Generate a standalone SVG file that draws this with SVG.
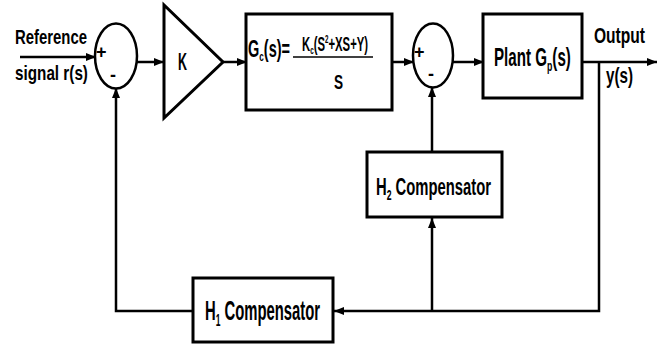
<svg xmlns="http://www.w3.org/2000/svg" width="668" height="347" viewBox="0 0 668 347">
<defs>
<style>
.box{fill:#fff;stroke:#000;stroke-width:3}
.sum{fill:#fff;stroke:#000;stroke-width:2.5}
.ln{fill:none;stroke:#000;stroke-width:2.5}
.t{font-family:"Liberation Sans",Arial,sans-serif;font-weight:bold;fill:#000}
</style>
<marker id="ah" markerUnits="userSpaceOnUse" markerWidth="10" markerHeight="10" viewBox="0 0 10 10" refX="10" refY="5" orient="auto">
<path d="M0,1 L10,5 L0,9 Z" fill="#000"/>
</marker>
</defs>
<rect width="668" height="347" fill="#fff"/>
<g id="connectors">
<line class="ln" x1="20" y1="57" x2="96" y2="57" marker-end="url(#ah)"/>
<line class="ln" x1="137" y1="62" x2="164" y2="62" marker-end="url(#ah)"/>
<line class="ln" x1="223" y1="62" x2="247" y2="62" marker-end="url(#ah)"/>
<line class="ln" x1="392" y1="62" x2="414" y2="62" marker-end="url(#ah)"/>
<line class="ln" x1="453" y1="62" x2="484" y2="62" marker-end="url(#ah)"/>
<line class="ln" x1="582" y1="62" x2="657" y2="62" marker-end="url(#ah)"/>
<polyline class="ln" points="599,62 599,311 334,311" marker-end="url(#ah)"/>
<line class="ln" x1="432" y1="311" x2="432" y2="218" marker-end="url(#ah)"/>
<line class="ln" x1="432" y1="152" x2="432" y2="87" marker-end="url(#ah)"/>
<polyline class="ln" points="193,311 116,311 116,88" marker-end="url(#ah)"/>
</g>
<g id="input-label">
<text class="t" font-size="20" transform="translate(15,44) scale(0.745,1)">Reference</text>
<text class="t" font-size="20" transform="translate(15,80) scale(0.764,1)">signal r(s)</text>
</g>
<g id="sum1">
<ellipse class="sum" cx="116" cy="56" rx="21" ry="32.5"/>
<text class="t" x="96" y="58" font-size="18">+</text>
<text class="t" x="110" y="81" font-size="18">-</text>
</g>
<g id="gain-k">
<polygon class="box" points="164,5 164,118 223,62"/>
<text class="t" font-size="24" transform="translate(178,70) scale(0.52,1)">K</text>
</g>
<g id="controller-gc">
<rect class="box" x="246" y="14" width="146" height="96"/>
<text class="t" font-size="23" transform="translate(248,57) scale(0.63,1)">G<tspan font-size="13" dy="4">c</tspan><tspan dy="-4">(s)=</tspan></text>
<text class="t" font-size="20" transform="translate(302,51) scale(0.566,1)">K<tspan font-size="11" dy="3">c</tspan><tspan dy="-3">(S</tspan><tspan font-size="11" dy="-8">2</tspan><tspan dy="8">+XS+Y)</tspan></text>
<line x1="293" y1="57" x2="373" y2="57" stroke="#000" stroke-width="1.5"/>
<text class="t" font-size="20" transform="translate(334,89) scale(0.68,1)">S</text>
</g>
<g id="sum2">
<ellipse class="sum" cx="433" cy="55.5" rx="20" ry="32"/>
<text class="t" x="414" y="58" font-size="18">+</text>
<text class="t" x="428" y="80" font-size="18">-</text>
</g>
<g id="plant">
<rect class="box" x="483" y="14" width="99" height="84"/>
<text class="t" font-size="26" transform="translate(494,66) scale(0.583,1)">Plant G<tspan font-size="15" dy="5">p</tspan><tspan dy="-5">(s)</tspan></text>
</g>
<g id="output-label">
<text class="t" font-size="22" transform="translate(594,43) scale(0.708,1)">Output</text>
<text class="t" font-size="22" transform="translate(606,83) scale(0.69,1)">y(s)</text>
</g>
<g id="h2-compensator">
<rect class="box" x="367" y="152" width="135" height="65"/>
<text class="t" font-size="24" transform="translate(376,195) scale(0.617,1)">H<tspan font-size="14" dy="5">2</tspan><tspan dy="-5"> Compensator</tspan></text>
</g>
<g id="h1-compensator">
<rect class="box" x="193" y="278" width="140" height="64"/>
<text class="t" font-size="28" transform="translate(205,320) scale(0.53,1)">H<tspan font-size="16" dy="6">1</tspan><tspan dy="-6"> Compensator</tspan></text>
</g>
</svg>
